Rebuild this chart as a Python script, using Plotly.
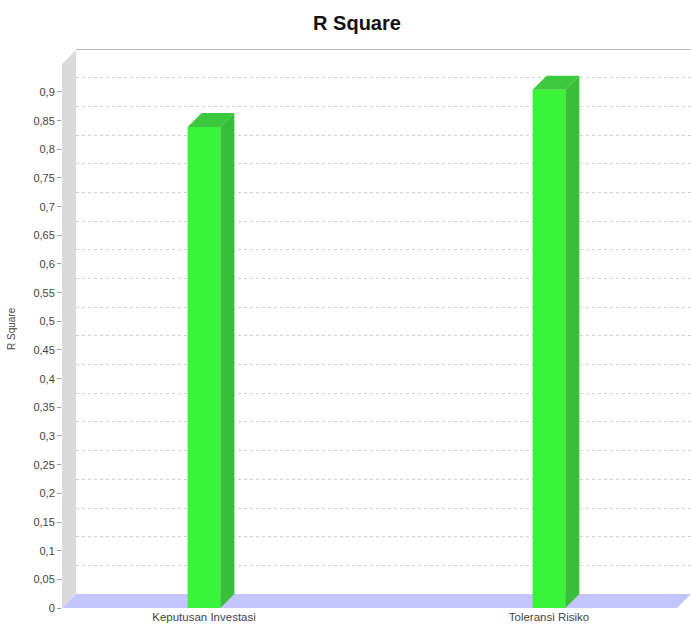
import plotly.graph_objects as go

# Data
categories = ["Keputusan Investasi", "Toleransi Risiko"]
r_square = [0.839, 0.904]
y_tick_values = [0, 0.05, 0.1, 0.15, 0.2, 0.25, 0.3, 0.35, 0.4, 0.45,
                 0.5, 0.55, 0.6, 0.65, 0.7, 0.75, 0.8, 0.85, 0.9]
y_tick_labels = ["0", "0,05", "0,1", "0,15", "0,2", "0,25", "0,3", "0,35", "0,4", "0,45",
                 "0,5", "0,55", "0,6", "0,65", "0,7", "0,75", "0,8", "0,85", "0,9"]

# Geometry of the pseudo-3D plot (pixels)
W, H = 691, 634
ML, MR, MT, MB = 62, 0, 50, 26
PW, PH = W - ML - MR, H - MT - MB          # full plot box
DX, DY = 14, 14                             # depth offset of the back plane
FW, FH = PW - DX, PH - DY                   # front plane size
Y_MAX = 0.9488
X_MIN, X_MAX = -0.4116, 1.371
BAR_W = 0.095
ppx = FW / (X_MAX - X_MIN)                  # pixels per x unit
ppy = FH / Y_MAX                            # pixels per y unit

FONT = "Liberation Sans, Arial, sans-serif"
FRONT = "#3af43a"
TOP = "#3ec83e"
SIDE = "#39be39"
WALL = "#dadada"
FLOOR = "#c4c4ff"

xs = list(range(len(categories)))

fig = go.Figure()
# back plane (grid only)
fig.add_trace(go.Scatter(x=[None], y=[None], xaxis="x", yaxis="y", hoverinfo="skip", showlegend=False))
# front plane bars
fig.add_trace(go.Bar(x=xs, y=r_square, width=BAR_W, marker=dict(color=FRONT, line=dict(width=0)),
                     hoverinfo="skip", xaxis="x2", yaxis="y2"))

shapes = []
fx = DX / PW
fy = DY / PH
# left wall
shapes.append(dict(type="path", xref="paper", yref="paper", layer="below",
                   path=f"M0,0 L0,{FH/PH} L{fx},1 L{fx},{fy} Z",
                   fillcolor=WALL, line=dict(width=0)))
# floor
shapes.append(dict(type="path", xref="paper", yref="paper", layer="below",
                   path=f"M0,0 L{fx},{fy} L1,{fy} L{FW/PW},0 Z",
                   fillcolor=FLOOR, line=dict(width=0)))

# 3D faces of each bar
for x, v in zip(xs, r_square):
    wpx = BAR_W * ppx
    hpx = v * ppy
    shapes.append(dict(type="path", xref="x2", yref="y2", layer="above",
                       xsizemode="pixel", ysizemode="pixel",
                       xanchor=x - BAR_W / 2, yanchor=v,
                       path=f"M0,0 L{DX},{DY} L{DX + wpx},{DY} L{wpx},0 Z",
                       fillcolor=TOP, line=dict(width=0)))
    shapes.append(dict(type="path", xref="x2", yref="y2", layer="above",
                       xsizemode="pixel", ysizemode="pixel",
                       xanchor=x + BAR_W / 2, yanchor=v,
                       path=f"M0,0 L{DX},{DY} L{DX},{DY - hpx} L0,{-hpx} Z",
                       fillcolor=SIDE, line=dict(width=0)))

fig.update_layout(
    width=W, height=H,
    margin=dict(l=ML, r=MR, t=MT, b=MB, pad=0),
    paper_bgcolor="white", plot_bgcolor="rgba(0,0,0,0)",
    showlegend=False,
    font=dict(family=FONT, color="#444444", size=11),
    title=dict(text="<b>R Square</b>", x=357 / W, xanchor="center", y=1 - 23 / H, yanchor="middle",
               font=dict(family=FONT, size=20, color="#111111")),
    # back plane
    xaxis=dict(domain=[fx, 1], range=[X_MIN, X_MAX], anchor="y", side="top",
               showgrid=False, zeroline=False, showline=True, linecolor="#b8b8b8", linewidth=1,
               showticklabels=False, ticks="", fixedrange=True),
    yaxis=dict(domain=[fy, 1], range=[0, Y_MAX], anchor="x",
               tickvals=y_tick_values[1:], showgrid=True, gridcolor="#d0d0d0", griddash="3px,3px",
               gridwidth=1, zeroline=False, showline=False, showticklabels=False, ticks="",
               fixedrange=True),
    # front plane
    xaxis2=dict(domain=[0, FW / PW], range=[X_MIN, X_MAX], anchor="y2", tickvals=xs, ticktext=categories,
                showgrid=False, zeroline=False, showline=False, ticks="",
                tickfont=dict(size=11.5, color="#444444"), fixedrange=True),
    yaxis2=dict(domain=[0, FH / PH], range=[0, Y_MAX], anchor="x2", tickvals=y_tick_values,
                ticktext=y_tick_labels, showgrid=False, zeroline=False, showline=False,
                ticks="outside", ticklen=4, tickcolor="#999999",
                tickfont=dict(size=11, color="#444444"), fixedrange=True),
    shapes=shapes,
    annotations=[dict(text="R Square", xref="paper", yref="paper", x=(11 - ML) / PW, y=0.5,
                      xanchor="center", yanchor="middle", textangle=-90, showarrow=False,
                      font=dict(family=FONT, size=10, color="#444444"))],
)

fig.write_html("out.html")
